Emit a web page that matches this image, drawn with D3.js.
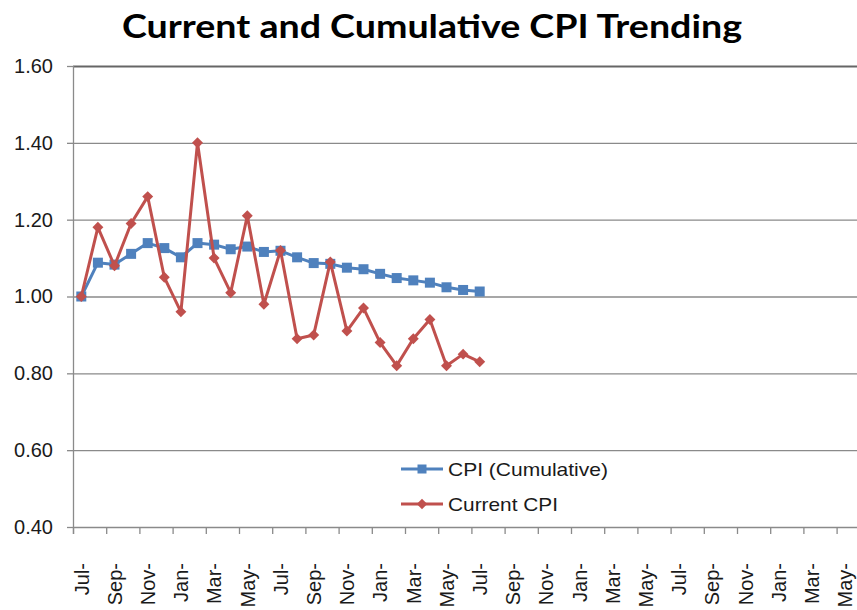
<!DOCTYPE html>
<html>
<head>
<meta charset="utf-8">
<script src="https://cdn.jsdelivr.net/npm/d3@7"></script>
<style>
  html, body { margin: 0; padding: 0; background: #fff; }
  svg { display: block; }
</style>
</head>
<body>
<svg id="chart" width="857" height="610"></svg>
<script>
// ---- data ----
const title = "Current and Cumulative CPI Trending";
const seriesNames = ["CPI (Cumulative)", "Current CPI"];
const cumulativeCPI = [1.00, 1.088, 1.083, 1.111, 1.139, 1.126, 1.102, 1.139, 1.135, 1.123, 1.130, 1.116, 1.119,
                       1.102, 1.087, 1.085, 1.075, 1.071, 1.059, 1.048, 1.042, 1.036, 1.024, 1.017, 1.013];
const currentCPI = [1.00, 1.18, 1.08, 1.19, 1.26, 1.05, 0.96, 1.40, 1.10, 1.01, 1.21, 0.98, 1.12,
                    0.89, 0.90, 1.09, 0.91, 0.97, 0.88, 0.82, 0.89, 0.94, 0.82, 0.85, 0.83];
const tickLabels = ["Jul-","Sep-","Nov-","Jan-","Mar-","May-","Jul-","Sep-","Nov-","Jan-","Mar-","May-",
                    "Jul-","Sep-","Nov-","Jan-","Mar-","May-","Jul-","Sep-","Nov-","Jan-","Mar-","May-"];
const yTicks = [0.40, 0.60, 0.80, 1.00, 1.20, 1.40, 1.60];
const categoryCount = 48;

(function () {
// ---- layout ----
const svg = d3.select("#chart");
const mLeft = 73, mTop = 66, mBottom = 527;
const catW = 16.6;
const mRight = mLeft + catW * categoryCount;

const x = d3.scaleBand().domain(d3.range(categoryCount)).range([mLeft, mRight]).paddingInner(0).paddingOuter(0);
const xEdge = d3.scaleLinear().domain([0, categoryCount]).range([mLeft, mRight]);
const y = d3.scaleLinear().domain([0.4, 1.6]).range([mBottom, mTop]);
const cx = i => x(i) + x.bandwidth() / 2;

// title
svg.append("text")
  .attr("x", 122).attr("y", 38)
  .attr("textLength", 620).attr("lengthAdjust", "spacingAndGlyphs")
  .style("font-family", "Lato, 'Open Sans', sans-serif")
  .style("font-weight", "bold").style("font-size", "32px").style("fill", "#000")
  .text(title);

// gridlines
const grid = svg.append("g").attr("transform", `translate(${mLeft},0)`)
  .call(d3.axisLeft(y).tickValues(yTicks).tickSize(-(mRight - mLeft)).tickFormat(""));
grid.select(".domain").remove();
grid.selectAll("line").attr("stroke", "#8a8a8a").attr("stroke-width", 1.3);
grid.selectAll(".tick").filter(d => d === 1.6).select("line").attr("stroke", "#666").attr("stroke-width", 2);

// y axis
const yAx = svg.append("g").attr("transform", `translate(${mLeft},0)`)
  .call(d3.axisLeft(y).tickValues(yTicks).tickSize(6).tickPadding(14).tickFormat(d3.format(".2f")));
yAx.select(".domain").attr("stroke", "#8a8a8a").attr("stroke-width", 1.3)
  .attr("d", `M0.5,${mTop}V${mBottom + 7}`);
yAx.selectAll(".tick line").attr("stroke", "#8a8a8a").attr("stroke-width", 1.3);
yAx.selectAll("text").style("font-family", "'Liberation Sans', Arial, sans-serif")
  .style("font-size", "20px").style("fill", "#1a1a1a");

// x axis tick marks
const xMarks = svg.append("g").attr("transform", `translate(0,${mBottom})`)
  .call(d3.axisBottom(xEdge).tickValues(d3.range(0, categoryCount + 1, 2)).tickSize(7).tickFormat(""));
xMarks.select(".domain").remove();
xMarks.selectAll("line").attr("stroke", "#8a8a8a").attr("stroke-width", 1.3);

// x labels
const xLab = svg.append("g").attr("transform", `translate(0,${mBottom})`)
  .call(d3.axisBottom(x).tickValues(d3.range(0, categoryCount, 2)).tickSize(0)
    .tickFormat(i => tickLabels[i / 2]));
xLab.select(".domain").remove();
xLab.selectAll("text")
  .attr("transform", "rotate(-90)")
  .attr("x", -36).attr("y", 0).attr("dy", "0.36em")
  .style("text-anchor", "end")
  .style("font-family", "'Liberation Sans', Arial, sans-serif")
  .style("font-size", "20px").style("fill", "#1a1a1a");

// series
const blue = "#4F81BD", red = "#C0504D";
const line = d3.line().x((d, i) => cx(i)).y(d => y(d));

svg.append("path").datum(cumulativeCPI).attr("d", line)
  .attr("fill", "none").attr("stroke", blue).attr("stroke-width", 3).attr("stroke-linejoin", "round");
svg.append("g").selectAll("rect").data(cumulativeCPI).join("rect")
  .attr("x", (d, i) => cx(i) - 5).attr("y", d => y(d) - 5)
  .attr("width", 10).attr("height", 10).attr("fill", blue);

svg.append("path").datum(currentCPI).attr("d", line)
  .attr("fill", "none").attr("stroke", red).attr("stroke-width", 3).attr("stroke-linejoin", "round");
svg.append("g").selectAll("path").data(currentCPI).join("path")
  .attr("transform", (d, i) => `translate(${cx(i)},${y(d)}) rotate(45)`)
  .attr("d", d3.symbol().type(d3.symbolSquare).size(60)).attr("fill", red);

// legend
const legend = svg.append("g");
const legendItems = [
  {name: seriesNames[0], color: blue, shape: "square", y: 469},
  {name: seriesNames[1], color: red, shape: "diamond", y: 504}
];
legendItems.forEach(it => {
  const g = legend.append("g");
  g.append("line").attr("x1", 401).attr("x2", 443).attr("y1", it.y).attr("y2", it.y)
    .attr("stroke", it.color).attr("stroke-width", 3);
  if (it.shape === "square") {
    g.append("rect").attr("x", 422 - 4.5).attr("y", it.y - 4.5).attr("width", 9).attr("height", 9).attr("fill", it.color);
  } else {
    g.append("path").attr("transform", `translate(422,${it.y}) rotate(45)`)
      .attr("d", d3.symbol().type(d3.symbolSquare).size(55)).attr("fill", it.color);
  }
  g.append("text").attr("x", 448).attr("y", it.y).attr("dy", "0.36em")
    .style("font-family", "'Liberation Sans', Arial, sans-serif")
    .style("font-size", "19px").style("fill", "#1a1a1a")
    .attr("textLength", it.name === seriesNames[0] ? 160 : 110).attr("lengthAdjust", "spacingAndGlyphs")
    .text(it.name);
});
})();
</script>
</body>
</html>
